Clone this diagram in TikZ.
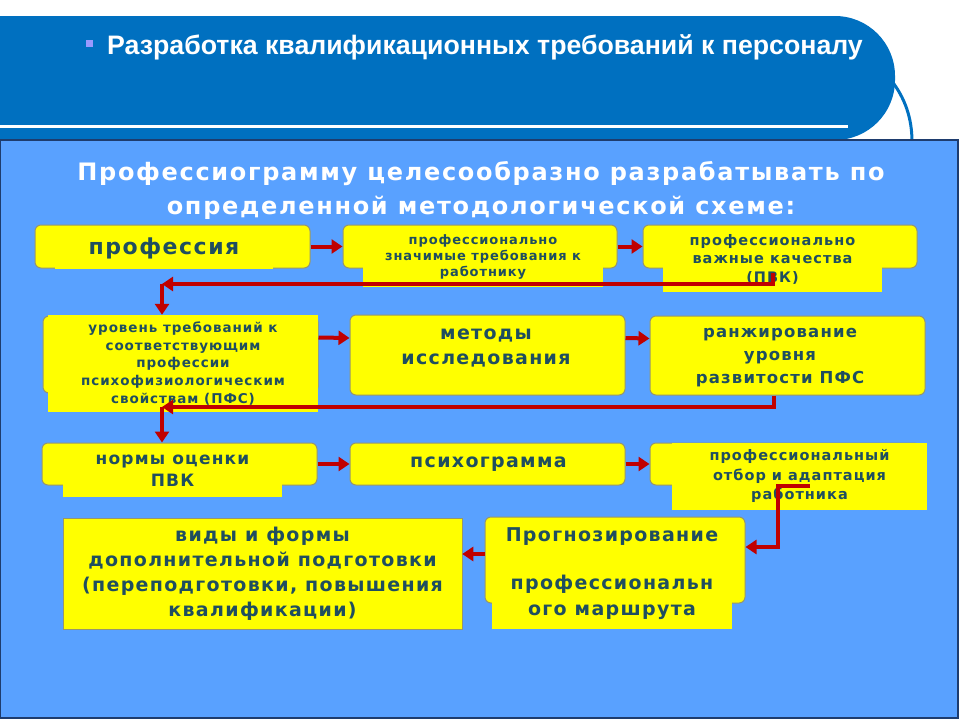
\documentclass[tikz,border=0pt]{standalone}
\usepackage{fontspec}
\setmainfont{DejaVu Sans}[LetterSpace=7]
\newfontfamily\headfont{Liberation Sans}
\usetikzlibrary{arrows.meta, positioning, calc}
\definecolor{headblue}{RGB}{0,112,192}
\definecolor{panelblue}{RGB}{89,161,255}
\definecolor{paneledge}{RGB}{30,60,110}
\definecolor{boxyellow}{RGB}{255,255,0}
\definecolor{boxedge}{RGB}{150,150,110}
\definecolor{boxtext}{RGB}{31,78,95}
\definecolor{arrowred}{RGB}{192,0,0}
\definecolor{bulletblue}{RGB}{153,153,255}
\newcommand{\fs}[2]{\fontsize{#1}{#2}\selectfont}

\begin{document}
\begin{tikzpicture}[
  x=1pt, y=-1pt,
  rbox/.style={draw=boxedge, fill=boxyellow, rounded corners=6pt, line width=1pt, inner sep=0pt},
  plate/.style={fill=boxyellow, text=boxtext, align=center, inner sep=0pt, font=\bfseries},
  arr/.style={draw=arrowred, line width=4pt, -{Triangle[length=11pt, width=14pt]}},
]
\useasboundingbox (0,0) rectangle (960,720);
\clip (0,0) rectangle (960,720);

% header band
\fill[headblue, rounded corners=60pt] (-100,16) rectangle (895,140);
\draw[white, line width=3pt] (0,126) -- (848,126);
\draw[headblue, line width=3pt] (891,80) .. controls (905,98) and (912,118) .. (912,142);
\node (bul) [fill=bulletblue, minimum size=7pt, inner sep=0pt] at (89.5,43.5) {};
\node (head) [anchor=base west, text=white, inner sep=0pt, font=\headfont\bfseries\fs{26.7}{30}] at (107,54)
  {Разработка квалификационных требований к персоналу};

% panel
\filldraw[fill=panelblue, draw=paneledge, line width=1.5pt] (0,140) rectangle (958,718);
\node (title) [text=white, align=center, inner sep=0pt, font=\bfseries\fs{24}{34}] at (481,190)
  {Профессиограмму целесообразно разрабатывать по\\определенной методологической схеме:};

% row 1
\node (profR) [rbox, minimum width=275pt, minimum height=43pt] at (172.5,246.5) {};
\node (prof) [plate, minimum width=218pt, minimum height=41pt, font=\bfseries\fs{22}{26}] at (164,248.5) {профессия};
\node (trebR) [rbox, minimum width=274pt, minimum height=43pt] at (480,246.5) {};
\node (treb) [plate, minimum width=240pt, minimum height=60pt, font=\bfseries\fs{13}{16}] at (483,257)
  {профессионально\\значимые требования к\\работнику};
\node (pvkR) [rbox, minimum width=274pt, minimum height=43pt] at (780,246.5) {};
\node (pvk) [plate, minimum width=219pt, minimum height=65pt, font=\bfseries\fs{14.5}{18.5}] at (772.5,259)
  {профессионально\\важные качества\\(ПВК)};

% row 2
\node (urR) [rbox, minimum width=275pt, minimum height=77pt] at (180.5,354.5) {};
\node (ur) [plate, minimum width=270pt, minimum height=97pt, font=\bfseries\fs{13.5}{17.8}] at (183,363.5)
  {уровень требований к\\соответствующим\\профессии\\психофизиологическим\\свойствам (ПФС)};
\node (metR) [rbox, minimum width=275pt, minimum height=80pt] at (487.5,355) {};
\node (met) [plate, minimum width=228pt, minimum height=56pt, font=\bfseries\fs{19}{25}] at (486,348)
  {методы\\исследования};
\node (ranR) [rbox, minimum width=275pt, minimum height=79pt] at (787.5,355.5) {};
\node (ran) [plate, minimum width=224pt, minimum height=73pt, font=\bfseries\fs{16.5}{23}] at (780,357.5)
  {ранжирование\\уровня\\развитости ПФС};

% row 3
\node (normR) [rbox, minimum width=275pt, minimum height=42pt] at (179.5,464) {};
\node (norm) [plate, minimum width=219pt, minimum height=53pt, font=\bfseries\fs{17}{22.5}] at (172.5,470.5)
  {нормы оценки\\ПВК};
\node (psyR) [rbox, minimum width=275pt, minimum height=42pt] at (487.5,464) {};
\node (psy) [plate, minimum width=233pt, minimum height=36pt, font=\bfseries\fs{19}{24}] at (488.5,464)
  {психограмма};
\node (otbR) [rbox, minimum width=270pt, minimum height=42pt] at (785,464) {};
\node (otb) [plate, minimum width=255pt, minimum height=67pt, font=\bfseries\fs{14.5}{19.5}] at (799.5,476)
  {профессиональный\\отбор и адаптация\\работника};

% row 4
\node (progR) [rbox, minimum width=260pt, minimum height=86pt] at (615,560) {};
\node (prog) [plate, minimum width=240pt, minimum height=111pt, font=\bfseries\fs{19}{26}] at (612,573.5)
  {Прогнозирование\\[22pt]профессиональн\\ого маршрута};
\node (vidy) [plate, draw=boxedge, line width=0.5pt, minimum width=399pt, minimum height=111pt, font=\bfseries\fs{19}{25}] at (262.5,574)
  {виды и формы\\дополнительной подготовки\\(переподготовки, повышения\\квалификации)};

% arrows
\draw[arr] (profR.east) -- (trebR.west);
\draw[arr] (trebR.east) -- (pvkR.west);
\coordinate (ret1) at (162,284);
\draw[arr] ([yshift=19pt]pvk.south) |- (ret1);
\draw[arr] (ret1) -- (ret1 |- ur.north);
\draw[arr] ([yshift=17pt]urR.east) -- ([yshift=17pt]metR.west);
\draw[arr] ([yshift=17pt]metR.east) -- ([yshift=17pt]ranR.west);
\coordinate (ret2) at (162,407);
\draw[arr] ([xshift=-14pt]ranR.south) |- (ret2);
\draw[arr] (ret2) -- (ret2 |- normR.north);
\draw[arr] (normR.east) -- (psyR.west);
\draw[arr] (psyR.east) -- (otbR.west);
\coordinate (ret3) at (810,486);
\draw[arr] (ret3) -- ++(-32,0) |- ([yshift=13pt]progR.east);
\coordinate (p10) at ([yshift=6pt]progR.west);
\draw[arr] (p10) -- (p10 -| vidy.east);

\end{tikzpicture}
\end{document}
